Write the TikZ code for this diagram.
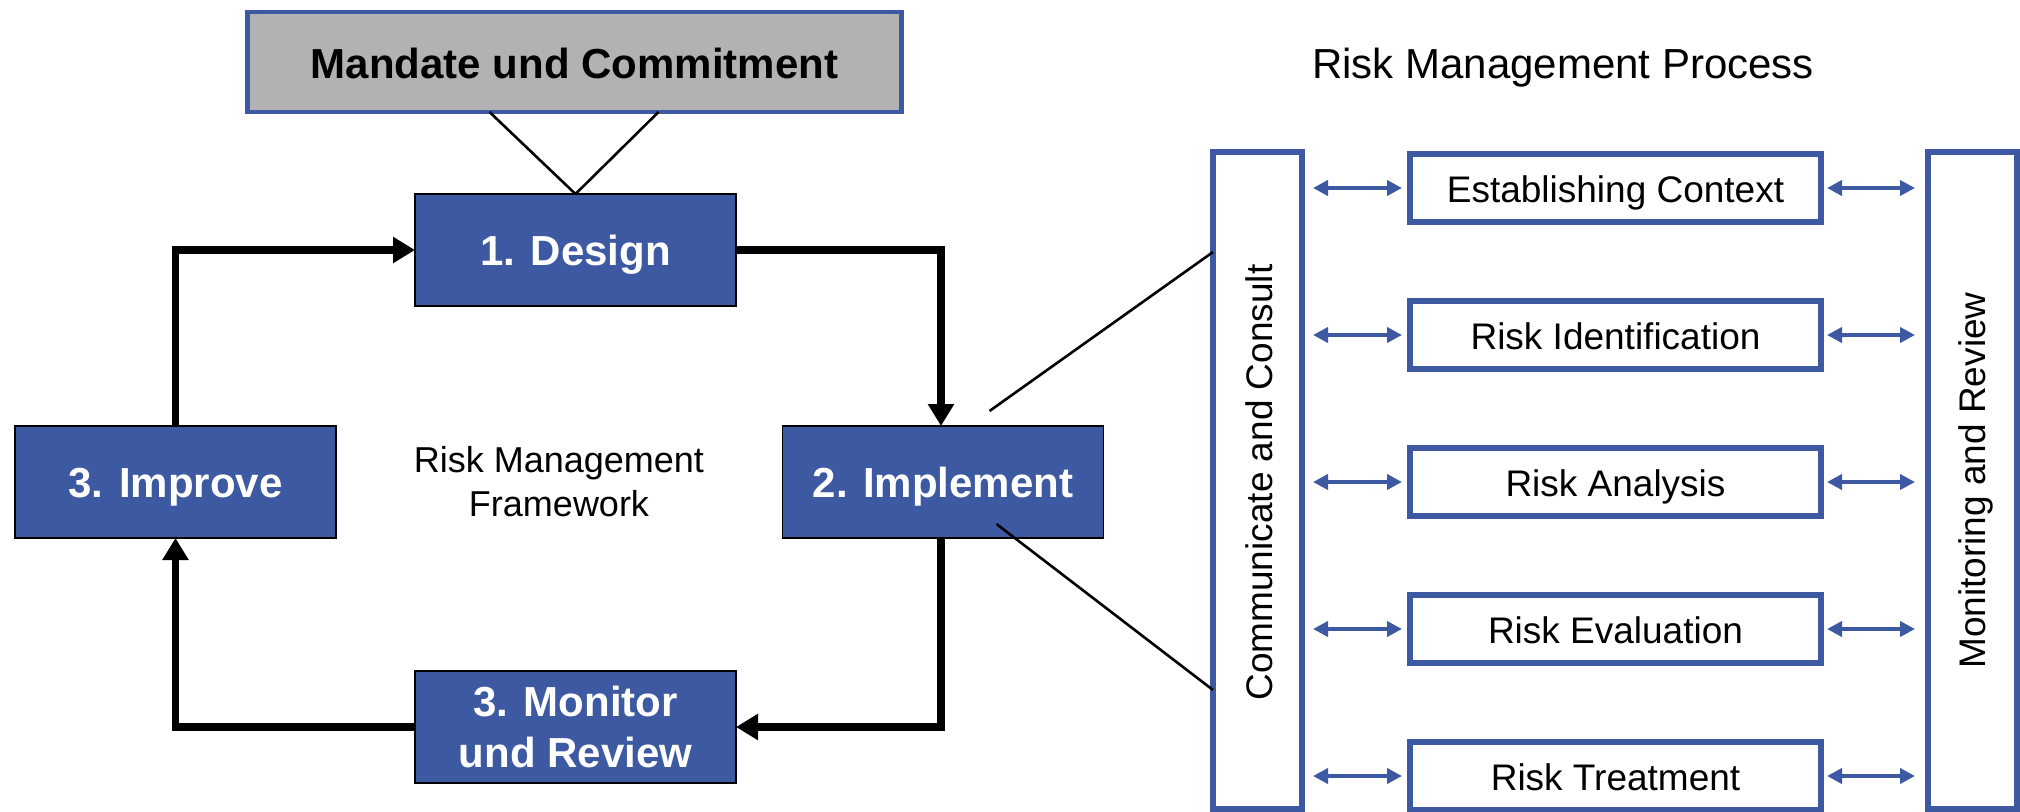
\documentclass[tikz,border=0pt]{standalone}
\usepackage{fontspec}
\setmainfont{Liberation Sans}
\usetikzlibrary{arrows.meta}
\definecolor{boxblue}{RGB}{61,89,161}
\definecolor{boxgray}{RGB}{178,178,178}
\begin{document}
\begin{tikzpicture}[x=1pt,y=-1pt,
  stepbase/.style={draw=black, line width=1.8pt, fill=boxblue, text=white,
    font=\bfseries\fontsize{42}{51}\selectfont, minimum width=321pt, minimum height=112pt,
    inner sep=0pt, outer sep=0pt, align=center},
  stepbox/.style={stepbase, text height=39pt, text depth=9pt},
  mandbox/.style={draw=boxblue, line width=4.5pt, fill=boxgray, text=black,
    font=\bfseries\fontsize{42}{50}\selectfont, minimum width=654pt, minimum height=100pt,
    inner sep=0pt, outer sep=0pt, text height=40pt, text depth=8pt},
  procbox/.style={draw=boxblue, line width=6pt, fill=white,
    font=\fontsize{37}{44}\selectfont, minimum width=411pt, minimum height=68pt,
    inner sep=0pt, outer sep=0pt, text height=34pt, text depth=6pt},
  sidebox/.style={draw=boxblue, line width=6pt, minimum width=89pt, minimum height=657pt,
    inner sep=0pt, outer sep=0pt},
  sidetext/.style={font=\fontsize{37}{44}\selectfont, rotate=90, anchor=base, inner sep=0pt},
  flow/.style={line width=7.5pt, -{Triangle[length=22pt,width=25pt]}},
  conn/.style={line width=2.6pt},
  darr/.style={draw=boxblue, line width=4pt,
    {Triangle[length=15pt,width=15pt]}-{Triangle[length=15pt,width=15pt]}}
]
\useasboundingbox (0,0) rectangle (2020,811);

% framework
\node[mandbox] (mandate) at (574.5,62) {Mandate und Commitment};
\node[stepbox] (design) at (575.5,250) {1. Design};
\node[stepbox] (improve) at (175.5,482) {3. Improve};
\node[stepbox] (implement) at (943,482) {2. Implement};
\node[stepbase] (monitor) at (575.5,727) {3. Monitor\\und Review};
\node[font=\fontsize{36}{44}\selectfont, align=center, inner sep=0pt] (framework) at (559,482) {Risk Management\\Framework};

\draw[conn] ([xshift=-85pt]mandate.south) -- (design.north);
\draw[conn] ([xshift=84pt]mandate.south) -- (design.north);

\draw[flow] (improve.north) |- (design.west);
\draw[flow] (design.east) -| ([xshift=-2pt]implement.north);
\draw[flow] ([xshift=-2pt]implement.south) |- (monitor.east);
\draw[flow] (monitor.west) -| (improve.south);

% process
\node[font=\fontsize{42}{50}\selectfont, anchor=base, inner sep=0pt] (title) at (1563,78) {Risk Management Process};
\node[sidebox] (comm) at (1257.5,480.5) {};
\node[sidebox] (mon) at (1972.5,480.5) {};
\node[sidetext] (commtext) at (1272,482.5) {Communicate and Consult};
\node[sidetext] (montext) at (1985,480.5) {Monitoring and Review};

\node[procbox] (ec) at (1615.5,188) {Establishing Context};
\node[procbox] (ri) at (1615.5,335) {Risk Identification};
\node[procbox] (ra) at (1615.5,482) {Risk Analysis};
\node[procbox] (rv) at (1615.5,629) {Risk Evaluation};
\node[procbox] (rt) at (1615.5,776) {Risk Treatment};

\foreach \b in {ec,ri,ra,rv,rt}{
  \draw[darr, shorten <=11pt, shorten >=8pt] (comm.east |- \b.west) -- (\b.west);
  \draw[darr, shorten <=6pt, shorten >=13pt] (\b.east) -- (mon.west |- \b.east);
}

\draw[conn] ([xshift=-114pt,yshift=15pt]implement.north east) -- ([yshift=-100pt]comm.north west);
\draw[conn] ([xshift=-107pt,yshift=14pt]implement.south east) -- ([yshift=-538pt]comm.north west);
\end{tikzpicture}
\end{document}
